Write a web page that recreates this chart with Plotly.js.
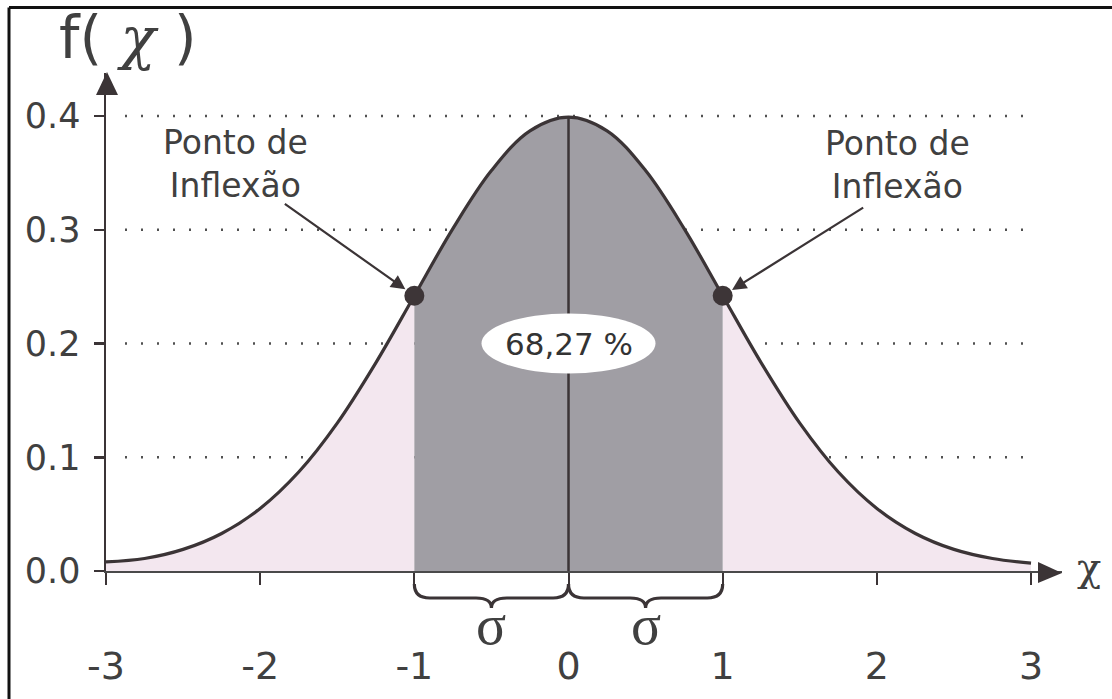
<!DOCTYPE html>
<html>
<head>
<meta charset="utf-8">
<script src="https://cdn.plot.ly/plotly-3.0.1.min.js"></script>
<style>
  html, body { margin: 0; padding: 0; background: #fff; }
  #chart { width: 1112px; height: 699px; }
</style>
</head>
<body>
<div id="chart"></div>
<script>
// ---- data ----
const xs = [-3, -2.75, -2.5, -2.25, -2, -1.75, -1.5, -1.25, -1, -0.75, -0.5, -0.25, 0,
            0.25, 0.5, 0.75, 1, 1.25, 1.5, 1.75, 2, 2.25, 2.5, 2.75, 3];
const fx = [0.008, 0.011, 0.019, 0.033, 0.055, 0.087, 0.130, 0.183, 0.242, 0.301, 0.352, 0.387, 0.399,
            0.387, 0.352, 0.301, 0.242, 0.183, 0.130, 0.087, 0.055, 0.033, 0.019, 0.011, 0.007];
const sigmaBounds = [-1, 0, 1];
const inflectionX = [-1, 1];
const yTickVals = [0, 0.1, 0.2, 0.3, 0.4];
const yTickText = ['0.0', '0.1', '0.2', '0.3', '0.4'];
const xTickVals = [-3, -2, -1, 0, 1, 2, 3];
const xTickText = ['-3', '-2', '-1', '0', '1', '2', '3'];
const areaLabel = '68,27 %';
const areaLabelY = 0.2;
const pointLabel = 'Ponto de<br>Inflexão';
const yTitle = 'f( <span style="font-family:\'DejaVu Serif\';font-style:italic">χ</span> )';
const xTitle = 'χ';
const sigmaLabel = 'σ';

// ---- styling ----
const DARK = '#3b3436';
const TEXT = '#404040';
const GREY_FILL = '#a09ea4';
const PINK_FILL = '#f3e7ef';

const W = 1112, H = 699;
const L = 106, R = 50, T = 73, B = 128;
const pxPerX = 154.17, pxPerY = 1137.5;
const plotW = W - L - R, plotH = H - T - B;

function pick(cond) {
  const x = [], y = [];
  xs.forEach((v, i) => { if (cond(v)) { x.push(v); y.push(fx[i]); } });
  return {x, y};
}
const lo = sigmaBounds[0], hi = sigmaBounds[sigmaBounds.length - 1];
const leftTail = pick(v => v <= lo);
const center = pick(v => v >= lo && v <= hi);
const rightTail = pick(v => v >= hi);
const fAt = v => fx[xs.indexOf(v)];
const peak = fAt(sigmaBounds[1]);

const fillTrace = (seg, color) => ({
  x: seg.x, y: seg.y, type: 'scatter', mode: 'lines',
  line: {shape: 'spline', width: 0, color: 'rgba(0,0,0,0)'},
  fill: 'tozeroy', fillcolor: color, hoverinfo: 'skip'
});

const traces = [
  fillTrace(leftTail, PINK_FILL),
  fillTrace(rightTail, PINK_FILL),
  fillTrace(center, GREY_FILL),
  {x: xs, y: fx, type: 'scatter', mode: 'lines',
   line: {shape: 'spline', color: DARK, width: 3.2}},
  {x: [sigmaBounds[1], sigmaBounds[1]], y: [0, peak], type: 'scatter', mode: 'lines',
   line: {color: DARK, width: 2.5}},
  {x: inflectionX, y: inflectionX.map(fAt), type: 'scatter', mode: 'markers',
   marker: {size: 20, color: '#3d3537'}, cliponaxis: false}
];

const shapes = [];
// dotted reference lines
yTickVals.slice(1).forEach(v => {
  shapes.push({type: 'line', layer: 'below', xref: 'paper', yref: 'y',
    x0: (125 - L) / plotW, x1: (1025 - L) / plotW, y0: v, y1: v,
    line: {color: '#505050', width: 2.5, dash: '2px,14px'}});
});
// white ellipse behind the percentage
shapes.push({type: 'circle', xref: 'x', yref: 'y', xsizemode: 'pixel', ysizemode: 'pixel',
  xanchor: sigmaBounds[1], yanchor: areaLabelY, x0: -87, x1: 87, y0: -30, y1: 30,
  fillcolor: '#ffffff', line: {width: 0}});
// axis arrow heads
shapes.push({type: 'path', xref: 'paper', yref: 'paper', xsizemode: 'pixel', ysizemode: 'pixel',
  xanchor: 0, yanchor: 1, path: 'M -10,-22 L 12,-22 L 1,1 Z', fillcolor: DARK, line: {width: 0}});
shapes.push({type: 'path', xref: 'paper', yref: 'paper', xsizemode: 'pixel', ysizemode: 'pixel',
  xanchor: 1, yanchor: 0, path: 'M -24,9 L -24,-12 L 0,-2 Z', fillcolor: DARK, line: {width: 0}});
// braces under each sigma interval
for (let i = 0; i < sigmaBounds.length - 1; i++) {
  const a = sigmaBounds[i], b = sigmaBounds[i + 1], m = (a + b) / 2, r = 0.1;
  const p = `M ${a},-13 Q ${a},-27 ${a + r},-27 L ${m - r},-27 Q ${m},-27 ${m},-37 ` +
            `Q ${m},-27 ${m + r},-27 L ${b - r},-27 Q ${b},-27 ${b},-13`;
  shapes.push({type: 'path', xref: 'x', yref: 'paper', ysizemode: 'pixel', yanchor: 0,
    path: p, line: {color: DARK, width: 3.2}});
}
// frame
shapes.push({type: 'line', xref: 'paper', yref: 'paper', xsizemode: 'pixel', ysizemode: 'pixel',
  xanchor: 0, yanchor: 1, x0: -97, x1: W - L + 10, y0: T - 7.5, y1: T - 7.5,
  line: {color: '#111', width: 3}});
shapes.push({type: 'line', xref: 'paper', yref: 'paper', xsizemode: 'pixel', ysizemode: 'pixel',
  xanchor: 0, yanchor: 1, x0: -97, x1: -97, y0: T - 7.5, y1: -(H - T) - 10,
  line: {color: '#111', width: 3}});

const annotations = [
  {xref: 'paper', yref: 'paper', x: 0, y: 1, xanchor: 'center', yanchor: 'middle',
   xshift: 22, yshift: 35, showarrow: false,
   text: yTitle, font: {family: 'DejaVu Sans', size: 58, color: TEXT}},
  {xref: 'paper', yref: 'paper', x: 1, y: 0, xanchor: 'center', yanchor: 'middle',
   xshift: 27, yshift: 4, showarrow: false,
   text: xTitle, font: {family: 'DejaVu Serif', size: 40, color: TEXT}},
  {x: sigmaBounds[1], y: areaLabelY, showarrow: false, text: areaLabel,
   font: {family: 'DejaVu Sans', size: 31, color: '#333'}},
  {x: inflectionX[0], y: fAt(inflectionX[0]), xshift: -179, yshift: 132, showarrow: false,
   text: pointLabel, font: {family: 'DejaVu Sans', size: 33, color: TEXT}},
  {x: inflectionX[1], y: fAt(inflectionX[1]), xshift: 175, yshift: 131, showarrow: false,
   text: pointLabel, font: {family: 'DejaVu Sans', size: 33, color: TEXT}},
  {x: inflectionX[0], y: fAt(inflectionX[0]), ax: -131, ay: -93, text: ' ', font: {size: 1},
   showarrow: true, arrowhead: 2, arrowsize: 1.3, arrowwidth: 2.2, arrowcolor: DARK, standoff: 11},
  {x: inflectionX[1], y: fAt(inflectionX[1]), ax: 142, ay: -89, text: ' ', font: {size: 1},
   showarrow: true, arrowhead: 2, arrowsize: 1.3, arrowwidth: 2.2, arrowcolor: DARK, standoff: 11}
];
for (let i = 0; i < sigmaBounds.length - 1; i++) {
  annotations.push({xref: 'x', yref: 'paper', x: (sigmaBounds[i] + sigmaBounds[i + 1]) / 2, y: 0,
    yshift: -54, yanchor: 'middle', showarrow: false, text: sigmaLabel,
    font: {family: 'Liberation Serif', size: 56, color: TEXT}});
}

const layout = {
  width: W, height: H,
  margin: {l: L, r: R, t: T, b: B, pad: 0},
  paper_bgcolor: '#ffffff', plot_bgcolor: '#ffffff',
  showlegend: false,
  font: {family: 'DejaVu Sans', color: TEXT},
  xaxis: {range: [-3, -3 + plotW / pxPerX], showgrid: false, zeroline: false,
    showline: true, linecolor: '#4a4a4a', linewidth: 2.2,
    tickmode: 'array', tickvals: xTickVals, ticktext: xTickText,
    ticks: 'outside', ticklen: 12, tickwidth: 2, tickcolor: DARK,
    ticklabelstandoff: 48, tickfont: {family: 'DejaVu Sans', size: 38, color: TEXT}},
  yaxis: {range: [0, plotH / pxPerY], showgrid: false, zeroline: false,
    showline: true, linecolor: DARK, linewidth: 2.5,
    tickmode: 'array', tickvals: yTickVals, ticktext: yTickText,
    ticks: 'outside', ticklen: 10, tickwidth: 2.5, tickcolor: DARK,
    ticklabelstandoff: 6, tickfont: {family: 'DejaVu Sans', size: 35, color: TEXT}},
  shapes: shapes,
  annotations: annotations
};

Plotly.newPlot('chart', traces, layout, {displayModeBar: false, staticPlot: true});
</script>
</body>
</html>
